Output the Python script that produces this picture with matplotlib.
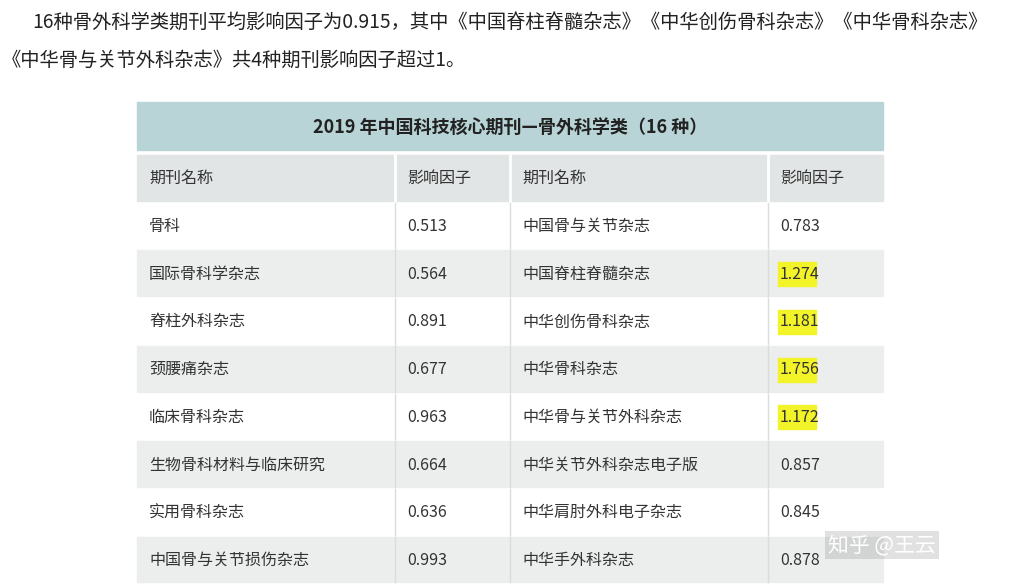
import matplotlib.pyplot as plt
from matplotlib import font_manager
from matplotlib.patches import Rectangle

# find an installed CJK sans font
cjk = []
for f in font_manager.findSystemFonts():
    if 'cjk' in f.lower():
        try:
            font_manager.fontManager.addfont(f)
            cjk.append(font_manager.FontProperties(fname=f).get_name())
        except Exception:
            pass
cjk += [f.name for f in font_manager.fontManager.ttflist if 'CJK' in f.name]
pref = ([n for n in cjk if 'Sans' in n and 'SC' in n] or [n for n in cjk if 'Sans' in n] or cjk)
plt.rcParams['font.family'] = pref[:1] + ['DejaVu Sans']

intro_1 = "16种骨外科学类期刊平均影响因子为0.915，其中《中国脊柱脊髓杂志》《中华创伤骨科杂志》《中华骨科杂志》"
intro_2 = "《中华骨与关节外科杂志》共4种期刊影响因子超过1。"
title = "2019 年中国科技核心期刊—骨外科学类（16 种）"
headers = ["期刊名称", "影响因子", "期刊名称", "影响因子"]

left_names = ["骨科", "国际骨科学杂志", "脊柱外科杂志", "颈腰痛杂志", "临床骨科杂志",
              "生物骨科材料与临床研究", "实用骨科杂志", "中国骨与关节损伤杂志"]
left_if = ["0.513", "0.564", "0.891", "0.677", "0.963", "0.664", "0.636", "0.993"]
right_names = ["中国骨与关节杂志", "中国脊柱脊髓杂志", "中华创伤骨科杂志", "中华骨科杂志",
               "中华骨与关节外科杂志", "中华关节外科杂志电子版", "中华肩肘外科电子杂志", "中华手外科杂志"]
right_if = ["0.783", "1.274", "1.181", "1.756", "1.172", "0.857", "0.845", "0.878"]
highlight = [False, True, True, True, True, False, False, False]

W, H = 1013, 585
fig = plt.figure(figsize=(W / 100, H / 100), dpi=100)
ax = fig.add_axes([0, 0, 1, 1])
ax.set_xlim(0, W)
ax.set_ylim(H, 0)
ax.axis('off')

ax.text(32, 22, intro_1, fontsize=13.9, va='center', color='#222222')
ax.text(2, 60, intro_2, fontsize=13.9, va='center', color='#222222')

x0, x1 = 137, 883
col_x = [137, 395, 510, 768, 883]
ax.add_patch(Rectangle((x0, 102), x1 - x0, 48, color='#b8d4d6'))
ax.text((x0 + x1) / 2, 127, title, fontsize=13, fontweight='bold', ha='center', va='center', color='#222222')

row_h = 47.7
top = 155
rows = [headers] + [[a, b, c, d] for a, b, c, d in zip(left_names, left_if, right_names, right_if)]
for i, row in enumerate(rows):
    y = top + i * row_h
    bg = '#e2e5e5' if i == 0 else ('#ffffff' if i % 2 == 1 else '#eceeee')
    ax.add_patch(Rectangle((x0, y), x1 - x0, row_h - 2, color=bg))
    for j, txt in enumerate(row):
        cy = y + row_h / 2
        if j == 3 and i > 0 and highlight[i - 1]:
            ax.add_patch(Rectangle((col_x[3] + 10, cy - 12), 38, 24, color='#f3f32a'))
        ax.text(col_x[j] + 12, cy, txt, fontsize=11.5, va='center', color='#333333')
    lc = 'white' if i == 0 else '#d8dcdc'
    for cx in col_x[1:4]:
        ax.plot([cx, cx], [y, y + row_h - 2], color=lc, lw=2 if i == 0 else 1)

ax.text(882, 545, "知乎 @王云", fontsize=15, ha='center', va='center', color='#ffffff',
        bbox=dict(facecolor='#888888', alpha=0.25, edgecolor='none', pad=2))

fig.savefig('out.png', dpi=100)
